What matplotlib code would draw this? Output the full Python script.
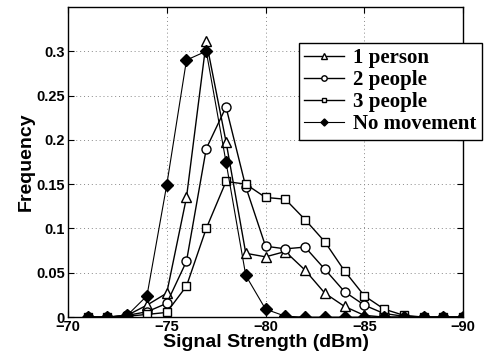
import matplotlib
matplotlib.use("Agg")
import matplotlib.pyplot as plt
import numpy as np

# received signal strength bins (dBm)
rss = np.arange(-71, -91, -1)

one_person = [0, 0, 0.002, 0.0135, 0.027, 0.135, 0.311, 0.198, 0.072, 0.068,
              0.074, 0.053, 0.027, 0.012, 0.002, 0, 0, 0, 0, 0]
two_people = [0, 0, 0.002, 0.006, 0.0155, 0.063, 0.19, 0.237, 0.147, 0.08,
              0.077, 0.079, 0.054, 0.0286, 0.0135, 0.004, 0.001, 0, 0, 0]
three_people = [0, 0, 0.001, 0.003, 0.0053, 0.035, 0.10, 0.153, 0.15, 0.135,
                0.133, 0.11, 0.085, 0.052, 0.024, 0.009, 0.002, 0, 0, 0]
no_movement = [0, 0, 0.002, 0.024, 0.149, 0.29, 0.30, 0.175, 0.047, 0.009,
               0.001, 0, 0, 0, 0, 0, 0, 0, 0, 0]

fig = plt.figure(figsize=(4.85, 3.62), dpi=100)
ax = fig.add_axes([0.140, 0.124, 0.815, 0.857])

lw = 1.0
ax.plot(rss, one_person, '-^', color='k', lw=lw, ms=7, mfc='white', mec='k', mew=1, label='1 person')
ax.plot(rss, two_people, '-o', color='k', lw=lw, ms=6.5, mfc='white', mec='k', mew=1, label='2 people')
ax.plot(rss, three_people, '-s', color='k', lw=lw, ms=6, mfc='white', mec='k', mew=1, label='3 people')
ax.plot(rss, no_movement, '-D', color='k', lw=0.8, ms=6, mfc='k', mec='k', label='No movement')

ax.set_xlim(-70, -90)
ax.set_ylim(0, 0.35)
ax.set_xticks([-70, -75, -80, -85, -90])
ax.set_yticks([0, 0.05, 0.1, 0.15, 0.2, 0.25, 0.3])
ax.set_yticklabels(['0', '0.05', '0.1', '0.15', '0.2', '0.25', '0.3'])
ax.set_xticklabels(['\u221270', '\u221275', '\u221280', '\u221285', '\u221290'])

for lab in ax.get_xticklabels() + ax.get_yticklabels():
    lab.set_fontfamily('Liberation Sans')
    lab.set_fontweight('bold')
    lab.set_fontsize(10.5)

ax.tick_params(direction='in', top=True, right=True, length=4, width=0.8, pad=2)
ax.grid(True, linestyle=(0, (1, 3)), color='#888888', lw=0.7)
for sp in ax.spines.values():
    sp.set_linewidth(1.0)

ax.set_xlabel('Signal Strength (dBm)', fontfamily='Liberation Sans', fontweight='bold', fontsize=14, labelpad=0)
ax.set_ylabel('Frequency', fontfamily='Liberation Sans', fontweight='bold', fontsize=14, labelpad=1)

leg = ax.legend(loc='upper left', bbox_to_anchor=(0.585, 0.884), frameon=True, fancybox=False,
                edgecolor='k', framealpha=1, markerscale=0.6, handlelength=1.9,
                handletextpad=0.45, borderpad=0.25, labelspacing=0.1, borderaxespad=0,
                prop={'family': 'Liberation Serif', 'weight': 'bold', 'size': 15})
leg.get_frame().set_linewidth(1.0)

fig.savefig('out.png', dpi=100)
